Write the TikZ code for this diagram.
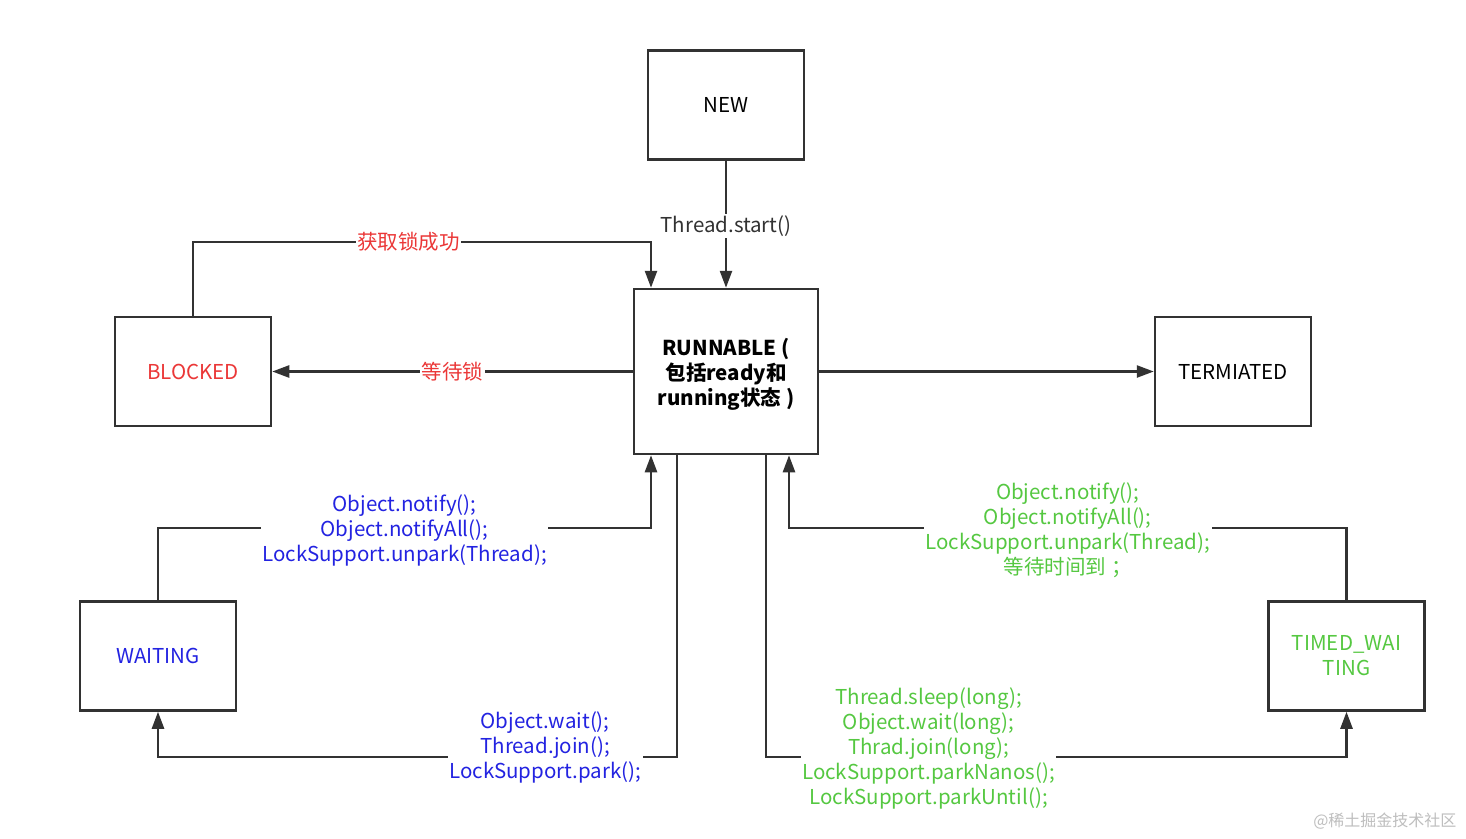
\documentclass[tikz,border=0pt]{standalone}
\usepackage{fontspec}
\setmainfont{Noto Sans CJK SC}
\usetikzlibrary{arrows.meta,calc}
\definecolor{linec}{RGB}{50,50,50}
\definecolor{lred}{RGB}{235,55,55}
\definecolor{lblue}{RGB}{35,35,225}
\definecolor{lgreen}{RGB}{85,200,65}
\definecolor{wmark}{RGB}{190,190,190}
\begin{document}
\begin{tikzpicture}[x=1pt,y=-1pt,
  box/.style={draw=linec,line width=2.5pt,minimum width=156pt,minimum height=109pt,inner sep=0pt,align=center,font=\fontsize{20.5}{25}\selectfont},
  wire/.style={draw=linec,line width=2.5pt,-{Triangle[length=17pt,width=12pt]}},
  lbl/.style={fill=white,inner sep=1.5pt,align=center,font=\fontsize{20.5}{25}\selectfont}]
\useasboundingbox (0,0) rectangle (1466,838);
\fill[white] (0,0) rectangle (1466,838);

\node[box] (new) at (726,105) {NEW};
\node[box,minimum width=184pt,minimum height=165pt,font=\bfseries\fontsize{20.5}{25}\selectfont] (run) at (726,371.5) {\raisebox{-3pt}[\height][\depth]{\parbox{180pt}{\centering RUNNABLE (\\包括ready和\\running状态 )}}};
\node[box,text=lred] (blocked) at (193,371.5) {BLOCKED};
\node[box] (term) at (1233,371.5) {TERMIATED};
\node[box,text=lblue] (wait) at (158,656) {WAITING};
\node[box,text=lgreen] (timed) at (1346.5,656) {TIMED\_WAI\\TING};

% NEW -> RUNNABLE
\draw[wire] (new.south) -- node[lbl,text=linec,yshift=-2pt]{Thread.start()} (run.north);
% BLOCKED -> RUNNABLE
\draw[wire] (blocked.north) -- (193,242) -- node[lbl,pos=0.47,text=lred]{获取锁成功} (651,242) -- (651,0 |- run.north);
% RUNNABLE -> BLOCKED
\draw[wire] (run.west) -- node[lbl,text=lred]{等待锁} (blocked.east);
% RUNNABLE -> TERMIATED
\draw[wire] (run.east) -- (term.west);
% WAITING -> RUNNABLE
\draw[wire] (wait.north) -- (158,528) -- node[lbl,pos=0.5,yshift=-2.5pt,text=lblue]{Object.notify();\\Object.notifyAll();\\LockSupport.unpark(Thread);} (651,528) -- (651,0 |- run.south);
% RUNNABLE -> WAITING
\draw[wire] (677,0 |- run.south) -- (677,757) -- node[lbl,pos=0.254,yshift=10pt,text=lblue]{Object.wait();\\Thread.join();\\LockSupport.park();} (158,757) -- (wait.south);
% TIMED_WAITING -> RUNNABLE
\draw[wire] (timed.north) -- (1346.5,528) -- node[lbl,pos=0.5,yshift=-2.5pt,text=lgreen]{Object.notify();\\Object.notifyAll();\\LockSupport.unpark(Thread);\\等待时间到 ；} (789,528) -- (789,0 |- run.south);
% RUNNABLE -> TIMED_WAITING
\draw[wire] (766,0 |- run.south) -- (766,757) -- node[lbl,pos=0.28,yshift=9pt,text=lgreen]{Thread.sleep(long);\\Object.wait(long);\\Thrad.join(long);\\LockSupport.parkNanos();\\LockSupport.parkUntil();} (1346.5,757) -- (timed.south);

\node[text=wmark,font=\fontsize{16}{20}\selectfont,anchor=east] (wm) at (1460,821) {@稀土掘金技术社区};
\end{tikzpicture}
\end{document}
